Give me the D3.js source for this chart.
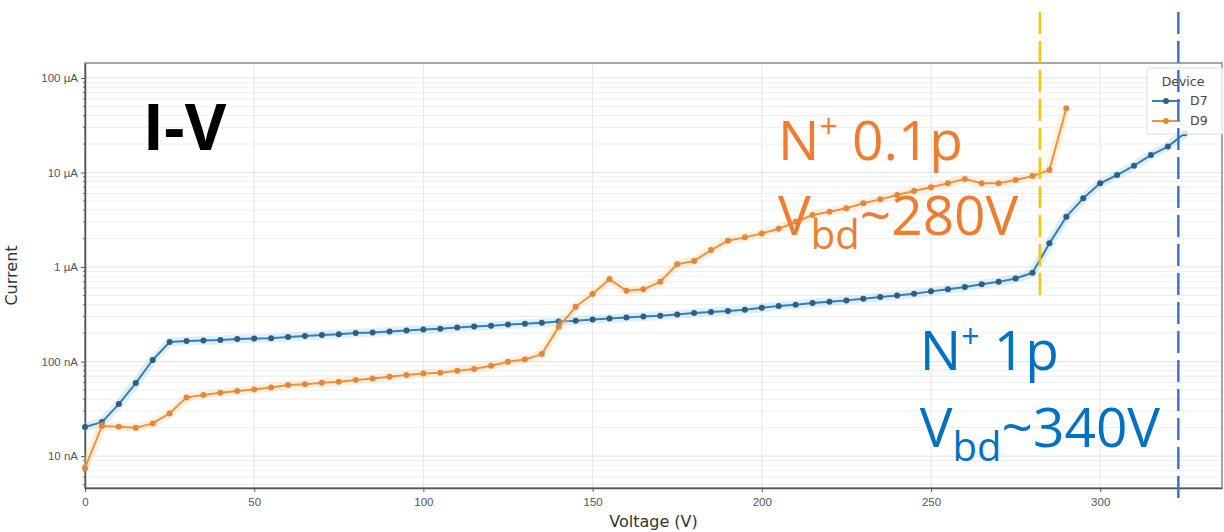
<!DOCTYPE html>
<meta charset="utf-8" />
<html>
  <head>
    <script src="https://d3js.org/d3.v7.min.js"></script>
    <style>
      body {
        margin: 0;
        background-color: white;
      }
    </style>
  </head>
  <body>
    <div id="chart"></div>
  </body>

  <script>
    // voltage sweep (V)
    const voltage = [0, 5, 10, 15, 20, 25, 30, 35, 40, 45, 50, 55, 60, 65, 70, 75, 80, 85, 90, 95,
      100, 105, 110, 115, 120, 125, 130, 135, 140, 145, 150, 155, 160, 165, 170, 175, 180, 185, 190, 195,
      200, 205, 210, 215, 220, 225, 230, 235, 240, 245, 250, 255, 260, 265, 270, 275, 280, 285, 290, 295,
      300, 305, 310, 315, 320, 325];

    // current (A)
    const currentD7 = [2.03e-8, 2.29e-8, 3.55e-8, 5.92e-8, 1.04e-7, 1.61e-7, 1.65e-7, 1.67e-7, 1.69e-7, 1.73e-7,
      1.75e-7, 1.77e-7, 1.82e-7, 1.86e-7, 1.91e-7, 1.95e-7, 2.0e-7, 2.03e-7, 2.08e-7, 2.13e-7,
      2.18e-7, 2.23e-7, 2.29e-7, 2.35e-7, 2.40e-7, 2.46e-7, 2.52e-7, 2.58e-7, 2.65e-7, 2.71e-7,
      2.78e-7, 2.85e-7, 2.92e-7, 2.99e-7, 3.06e-7, 3.14e-7, 3.26e-7, 3.34e-7, 3.42e-7, 3.53e-7,
      3.70e-7, 3.88e-7, 4.0e-7, 4.17e-7, 4.3e-7, 4.44e-7, 4.63e-7, 4.81e-7, 5.01e-7, 5.22e-7,
      5.53e-7, 5.81e-7, 6.16e-7, 6.58e-7, 6.97e-7, 7.56e-7, 8.69e-7, 1.78e-6, 3.41e-6, 5.33e-6,
      7.69e-6, 9.41e-6, 1.18e-5, 1.53e-5, 1.88e-5, 2.60e-5];

    const currentD9 = [7.46e-9, 2.08e-8, 2.04e-8, 1.99e-8, 2.22e-8, 2.83e-8, 4.18e-8, 4.42e-8, 4.67e-8, 4.88e-8,
      5.08e-8, 5.33e-8, 5.64e-8, 5.74e-8, 5.97e-8, 6.11e-8, 6.37e-8, 6.64e-8, 6.91e-8, 7.20e-8,
      7.50e-8, 7.62e-8, 8.0e-8, 8.33e-8, 9.03e-8, 9.95e-8, 1.05e-7, 1.20e-7, 2.33e-7, 3.80e-7,
      5.18e-7, 7.41e-7, 5.61e-7, 5.81e-7, 6.98e-7, 1.07e-6, 1.16e-6, 1.51e-6, 1.90e-6, 2.06e-6,
      2.26e-6, 2.54e-6, 3.01e-6, 3.55e-6, 3.85e-6, 4.18e-6, 4.72e-6, 5.20e-6, 5.78e-6, 6.37e-6,
      6.97e-6, 7.69e-6, 8.54e-6, 7.69e-6, 7.69e-6, 8.33e-6, 9.18e-6, 1.06e-5, 4.78e-5];

    const devices = ["D7", "D9"];

    const xTicks = [0, 50, 100, 150, 200, 250, 300];
    const yTicks = [1e-8, 1e-7, 1e-6, 1e-5, 1e-4];
    const yTickLabels = ["10 nA", "100 nA", "1 µA", "10 µA", "100 µA"];

    // breakdown markers: voltage, top and bottom current of the dashed line
    const bdVoltage = [282.2, 323.1];
    const bdTop = [5e-4, 5e-4];
    const bdBottom = [4.7e-7, 3.4e-9];

    const createChart = () => {
      const width = 1224;
      const height = 532;
      const margin = ({top: 63, right: 2, bottom: 44, left: 85});

      const svg = d3.select('#chart').append("svg")
        .attr("width", width)
        .attr("height", height)
        .style("font-family", "'DejaVu Sans', sans-serif");

      const x = d3.scaleLinear()
        .domain([0, 336])
        .range([margin.left, width - margin.right]);

      const y = d3.scaleLog()
        .domain([4.6e-9, 1.44e-4])
        .range([height - margin.bottom, margin.top]);

      // minor grid (log)
      const minor = [];
      for (let e = -9; e <= -4; e++) {
        for (let k = 2; k <= 9; k++) {
          const v = k * Math.pow(10, e);
          if (v > y.domain()[0] && v < y.domain()[1]) minor.push(v);
        }
      }

      const grid = svg.append("g");
      grid.selectAll(".ymin")
        .data(minor)
        .join("line")
          .attr("x1", margin.left).attr("x2", width - margin.right)
          .attr("y1", d => y(d)).attr("y2", d => y(d))
          .attr("stroke", "#eeeeee")
          .attr("stroke-width", 1);
      grid.selectAll(".ymaj")
        .data(yTicks)
        .join("line")
          .attr("x1", margin.left).attr("x2", width - margin.right)
          .attr("y1", d => y(d)).attr("y2", d => y(d))
          .attr("stroke", "#e2e2e2")
          .attr("stroke-width", 1);
      grid.selectAll(".xmaj")
        .data(xTicks)
        .join("line")
          .attr("x1", d => x(d)).attr("x2", d => x(d))
          .attr("y1", margin.top).attr("y2", height - margin.bottom)
          .attr("stroke", "#e6e6e6")
          .attr("stroke-width", 1);

      // frame
      svg.append("rect")
        .attr("x", margin.left).attr("y", margin.top)
        .attr("width", width - margin.left - margin.right)
        .attr("height", height - margin.top - margin.bottom)
        .attr("fill", "none")
        .attr("stroke", "#8a8a8a")
        .attr("stroke-width", 1.5);

      const xAxis = g => g
        .attr("transform", `translate(0,${height - margin.bottom})`)
        .call(d3.axisBottom(x).tickValues(xTicks).tickSize(4).tickSizeOuter(0).tickFormat(d3.format("d")))
        .call(g => g.select(".domain").attr("stroke", "#555").attr("stroke-width", 1.5))
        .call(g => g.selectAll(".tick line").attr("stroke", "#555"))
        .call(g => g.selectAll(".tick text").attr("fill", "#555").attr("font-size", 11.5).attr("dy", "0.95em"));

      const yAxis = g => g
        .attr("transform", `translate(${margin.left},0)`)
        .call(d3.axisLeft(y).tickValues(yTicks).tickSize(4).tickSizeOuter(0).tickFormat((d, i) => yTickLabels[i]))
        .call(g => g.select(".domain").attr("stroke", "#555").attr("stroke-width", 1.5))
        .call(g => g.selectAll(".tick line").attr("stroke", "#555"))
        .call(g => g.selectAll(".tick text").attr("fill", "#555").attr("font-size", 11.5));

      svg.append("g").call(xAxis);
      svg.append("g").call(yAxis);

      svg.append("g")
        .selectAll("line")
        .data(minor)
        .join("line")
          .attr("x1", margin.left - 2).attr("x2", margin.left)
          .attr("y1", d => y(d)).attr("y2", d => y(d))
          .attr("stroke", "#666");

      svg.append("text")
        .attr("x", x(168))
        .attr("y", 527)
        .attr("text-anchor", "middle")
        .attr("font-size", 16)
        .attr("fill", "#333")
        .text("Voltage (V)");

      svg.append("text")
        .attr("transform", `translate(17,${y(Math.sqrt(4.6e-9 * 1.44e-4))}) rotate(-90)`)
        .attr("text-anchor", "middle")
        .attr("font-size", 16)
        .attr("fill", "#333")
        .text("Current");

      // series
      const series = [
        {name: "D7", values: currentD7, line: "#3d7dab", dot: "#2c5f86", halo: "#9fd2ee"},
        {name: "D9", values: currentD9, line: "#e8953f", dot: "#e2883a", halo: "#fbd3a8"}
      ];

      const line = d3.line()
        .x(d => x(d.v))
        .y(d => y(d.i));

      series.forEach(s => {
        const pts = s.values.map((c, k) => ({v: voltage[k], i: c}));
        svg.append("path")
          .datum(pts)
          .attr("fill", "none")
          .attr("stroke", s.halo)
          .attr("stroke-opacity", 0.35)
          .attr("stroke-width", 9)
          .attr("stroke-linejoin", "round")
          .attr("d", line);
        svg.append("path")
          .datum(pts)
          .attr("fill", "none")
          .attr("stroke", s.line)
          .attr("stroke-width", 2)
          .attr("stroke-linejoin", "round")
          .attr("d", line);
        svg.append("g")
          .selectAll("circle")
          .data(pts)
          .join("circle")
            .attr("cx", d => x(d.v))
            .attr("cy", d => y(d.i))
            .attr("r", 3)
            .attr("fill", s.dot);
      });

      // legend
      const legend = svg.append("g").attr("transform", "translate(1147,68)");
      legend.append("rect")
        .attr("width", 78).attr("height", 66)
        .attr("fill", "white").attr("fill-opacity", 0.8)
        .attr("stroke", "#dddddd").attr("rx", 2);
      legend.append("text")
        .attr("x", 36).attr("y", 18)
        .attr("text-anchor", "middle")
        .attr("font-size", 12.5).attr("fill", "#444")
        .text("Device");
      devices.forEach((d, k) => {
        const s = series[k];
        const g = legend.append("g").attr("transform", `translate(0,${33 + k * 20})`);
        g.append("line").attr("x1", 5).attr("x2", 33).attr("stroke", s.line).attr("stroke-width", 2);
        g.append("circle").attr("cx", 19).attr("r", 3).attr("fill", s.dot);
        g.append("text").attr("x", 43).attr("dy", "0.35em")
          .attr("font-size", 12.5).attr("fill", "#444").text(d);
      });

      // breakdown dashed lines
      const bdColors = ["#ffc000", "#4472c4"];
      svg.append("g")
        .selectAll("line")
        .data(bdVoltage)
        .join("line")
          .attr("x1", d => x(d)).attr("x2", d => x(d))
          .attr("y1", (d, k) => y(bdTop[k]))
          .attr("y2", (d, k) => y(bdBottom[k]))
          .attr("stroke", (d, k) => bdColors[k])
          .attr("stroke-width", 2.5)
          .attr("stroke-dasharray", "22,7");

      // annotations
      svg.append("text")
        .attr("x", x(17.1)).attr("y", y(1.73e-5))
        .attr("font-family", "'Open Sans', sans-serif")
        .attr("font-weight", 700)
        .attr("font-size", 64)
        .attr("fill", "black")
        .text("I-V");

      const note = (v, c, color, parts) => {
        const t = svg.append("text")
          .attr("x", x(v)).attr("y", y(c))
          .attr("font-family", "'Open Sans', sans-serif")
          .attr("font-size", 55)
          .attr("fill", color);
        parts.forEach(p => {
          const ts = t.append("tspan").text(p.t);
          if (p.sup) ts.attr("font-size", 32).attr("dy", -22);
          if (p.sub) ts.attr("font-size", 40).attr("dy", 14);
          if (p.back) ts.attr("dy", p.back);
        });
      };

      note(204.8, 1.355e-5, "#ed7d31", [{t: "N"}, {t: "+", sup: true}, {t: " 0.1p", back: 22}]);
      note(204.8, 2.18e-6, "#ed7d31", [{t: "V"}, {t: "bd", sub: true}, {t: "~280V", back: -14}]);
      note(246.7, 8.13e-8, "#0070c0", [{t: "N"}, {t: "+", sup: true}, {t: " 1p", back: 22}]);
      note(246.7, 1.245e-8, "#0070c0", [{t: "V"}, {t: "bd", sub: true}, {t: "~340V", back: -14}]);
    };

    createChart();
  </script>
</html>
